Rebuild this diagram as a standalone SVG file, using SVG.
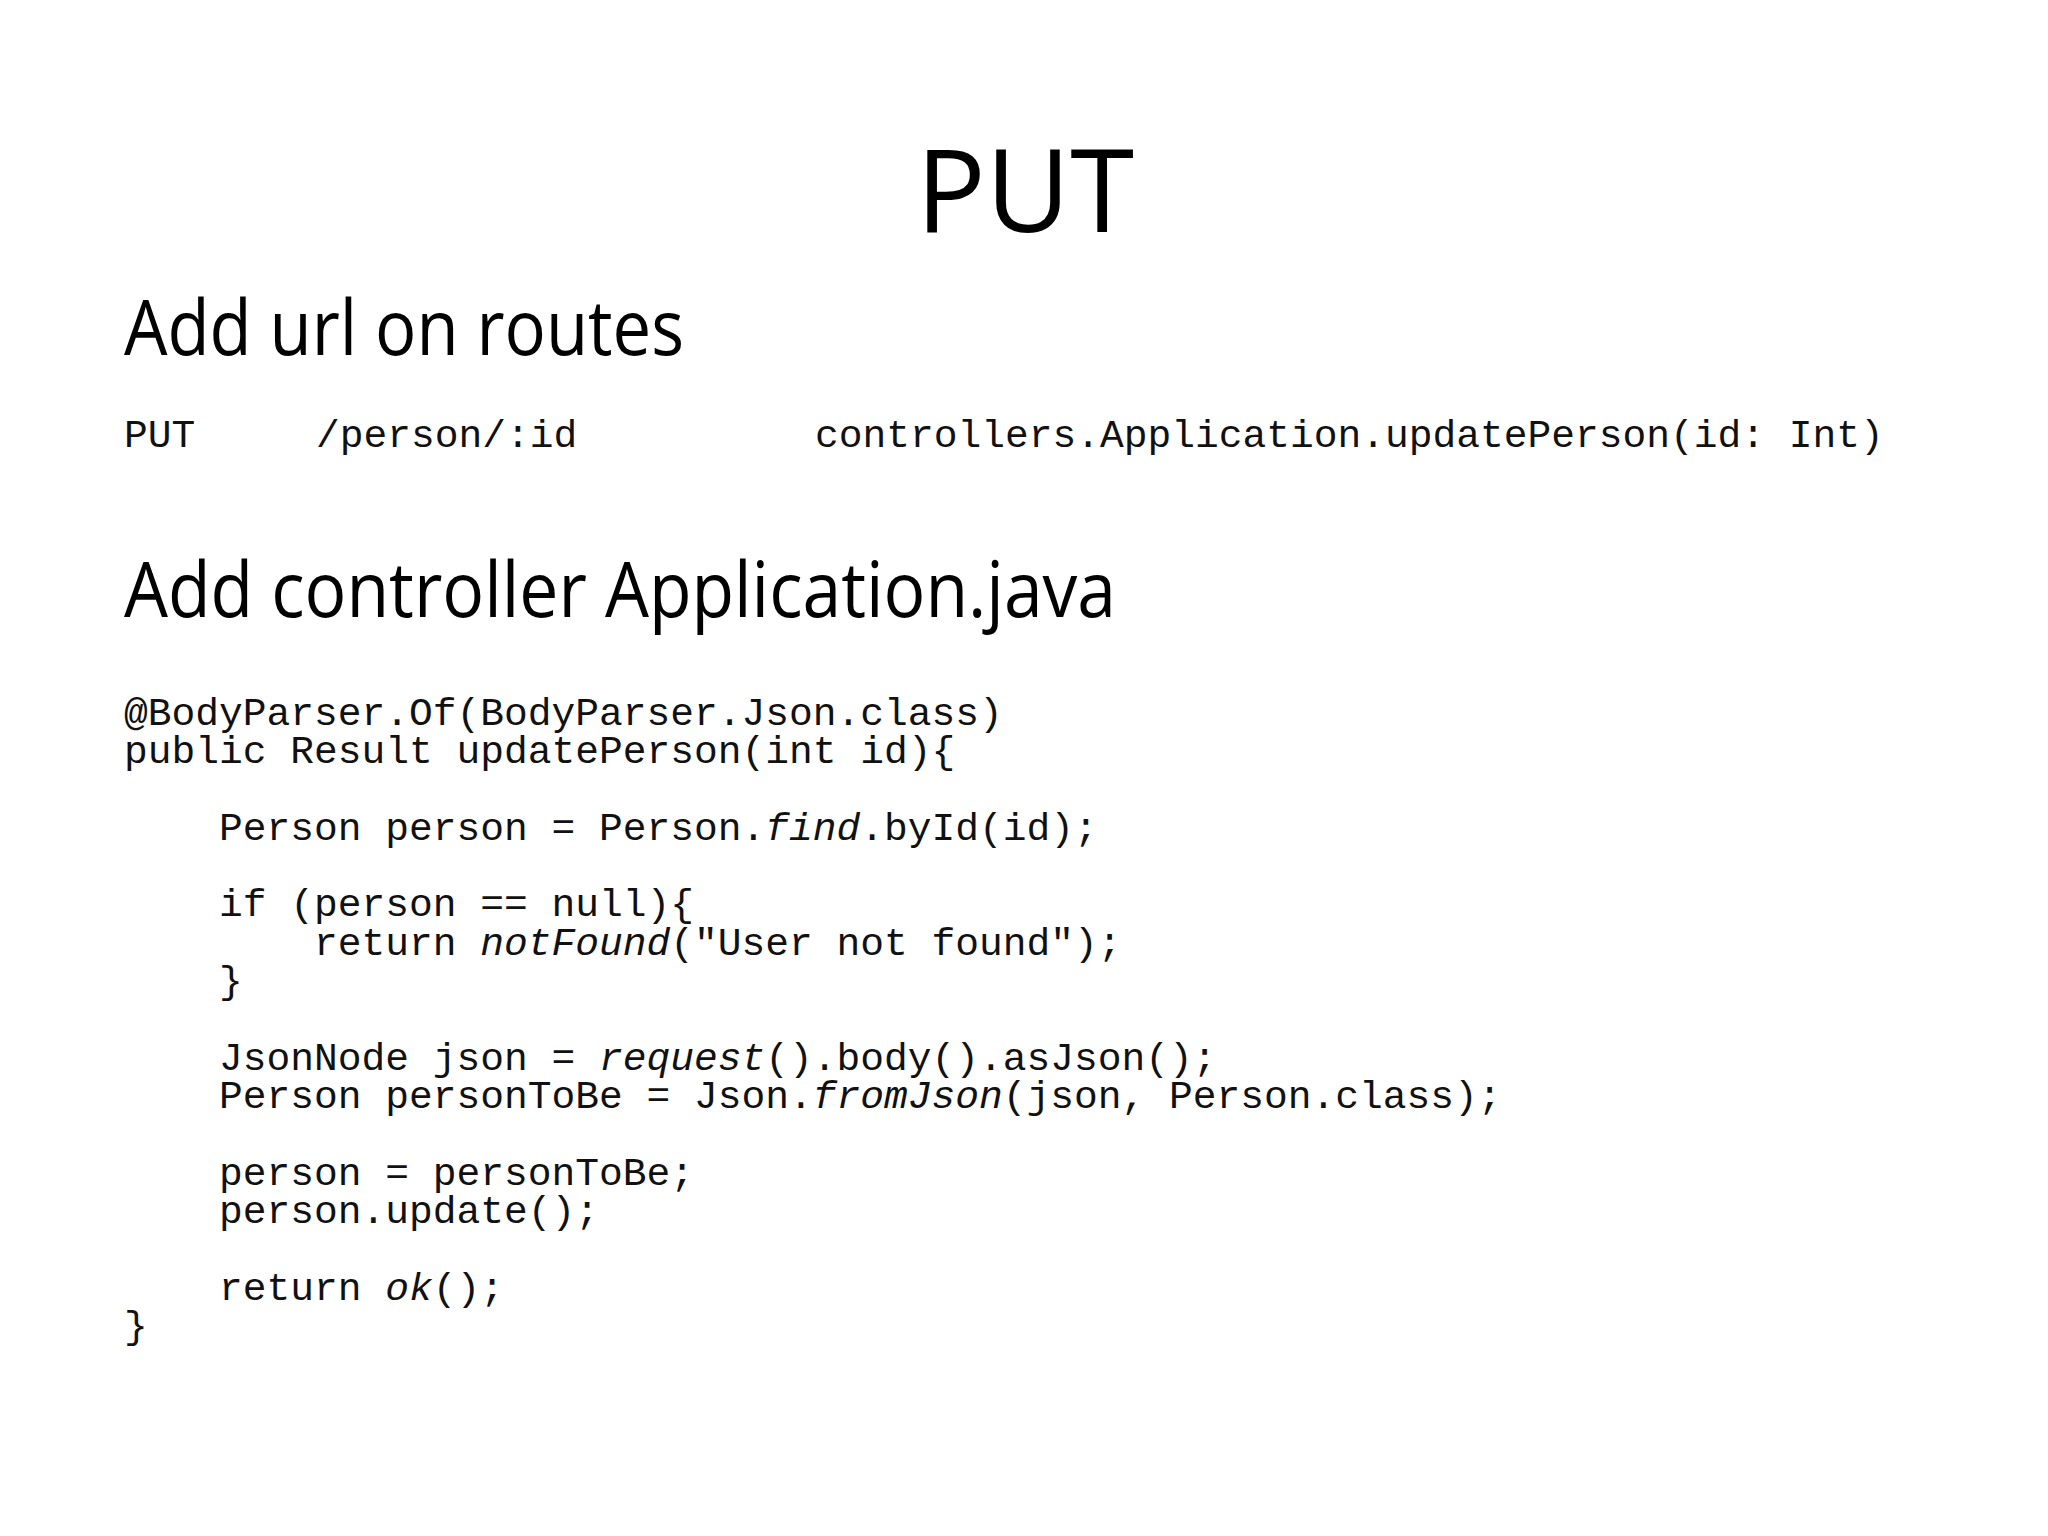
<svg xmlns="http://www.w3.org/2000/svg" width="2048" height="1536" viewBox="0 0 2048 1536">
<style>
.h{font-family:"Open Sans","Noto Sans",sans-serif;fill:#000}
.c{font-family:"Liberation Mono","Courier New",monospace;font-size:39.6px;fill:#111;white-space:pre}
.i{font-style:italic}
</style>
<rect width="2048" height="1536" fill="#fff"/>
<g id="title"><text class="h" x="1025" y="232" font-size="116" text-anchor="middle">PUT</text></g>
<g id="h1"><text class="h" x="124" y="355" font-size="76" textLength="560" lengthAdjust="spacingAndGlyphs">Add url on routes</text></g>
<g id="route">
<text class="c" x="124" y="447">PUT</text>
<text class="c" x="316" y="447">/person/:id</text>
<text class="c" x="815" y="447">controllers.Application.updatePerson(id: Int)</text>
</g>
<g id="h2"><text class="h" x="124" y="617" font-size="76" textLength="992" lengthAdjust="spacingAndGlyphs">Add controller Application.java</text></g>
<g id="code" xml:space="preserve">
<text class="c" x="124" y="725">@BodyParser.Of(BodyParser.Json.class)</text>
<text class="c" x="124" y="763">public Result updatePerson(int id){</text>
<text class="c" x="124" y="840">    Person person = Person.<tspan class="i">find</tspan>.byId(id);</text>
<text class="c" x="124" y="916">    if (person == null){</text>
<text class="c" x="124" y="955">        return <tspan class="i">notFound</tspan>("User not found");</text>
<text class="c" x="124" y="993">    }</text>
<text class="c" x="124" y="1070">    JsonNode json = <tspan class="i">request</tspan>().body().asJson();</text>
<text class="c" x="124" y="1108">    Person personToBe = Json.<tspan class="i">fromJson</tspan>(json, Person.class);</text>
<text class="c" x="124" y="1185">    person = personToBe;</text>
<text class="c" x="124" y="1223">    person.update();</text>
<text class="c" x="124" y="1300">    return <tspan class="i">ok</tspan>();</text>
<text class="c" x="124" y="1338">}</text>
</g>
</svg>
